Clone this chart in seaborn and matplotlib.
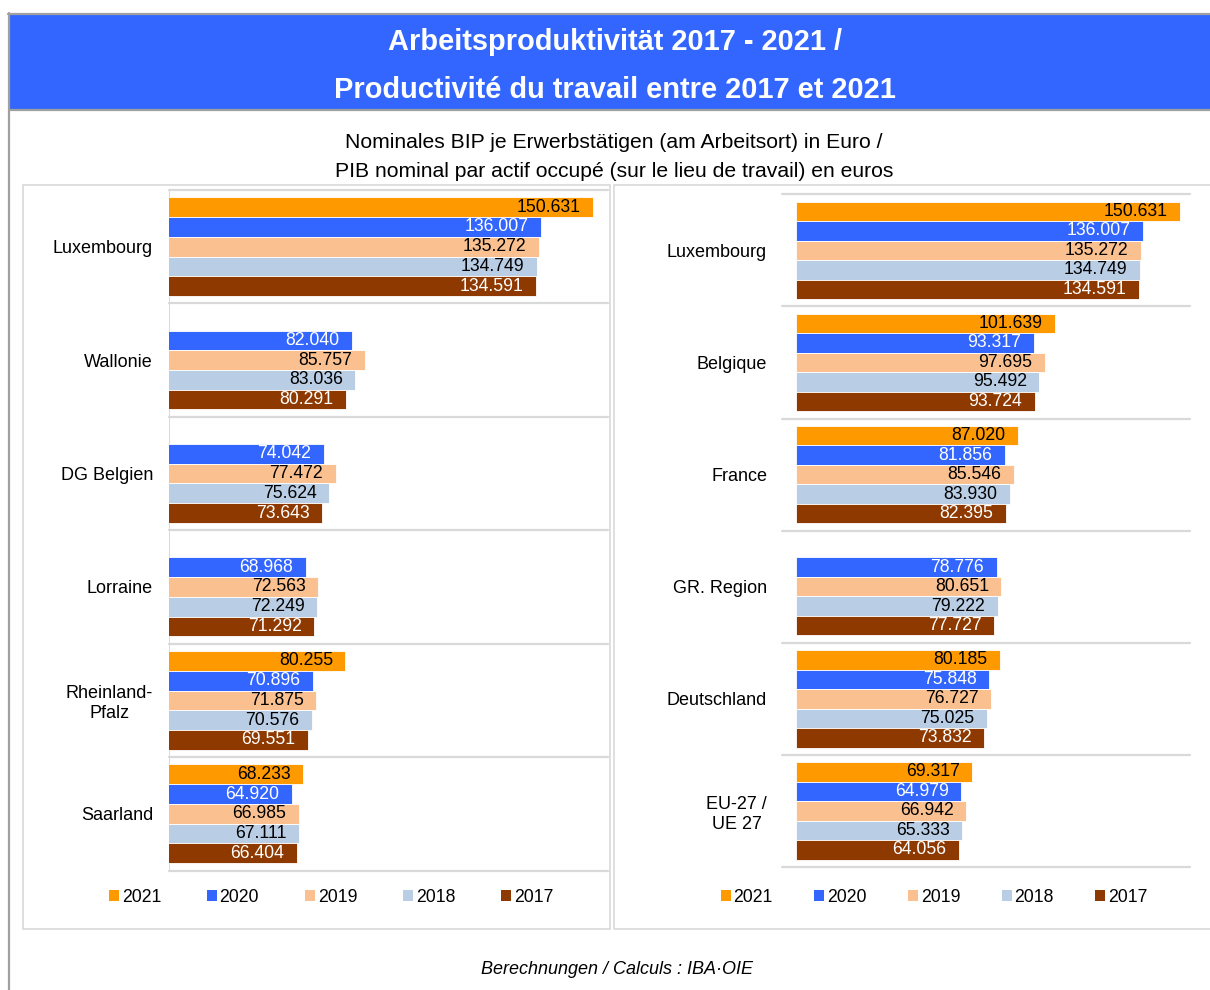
import matplotlib
matplotlib.use("Agg")
import matplotlib.pyplot as plt
import matplotlib.patches as mpatches
import numpy as np
import pandas as pd
import seaborn as sns

years = ["2021", "2020", "2019", "2018", "2017"]
year_colors = ["#FF9900", "#3366FF", "#FAC090", "#B9CDE5", "#8E3900"]
label_colors = ["black", "white", "black", "black", "white"]

left_regions = ["Luxembourg", "Wallonie", "DG Belgien", "Lorraine", "Rheinland-\nPfalz", "Saarland"]
left_values = {
    "2021": [150631, np.nan, np.nan, np.nan, 80255, 68233],
    "2020": [136007, 82040, 74042, 68968, 70896, 64920],
    "2019": [135272, 85757, 77472, 72563, 71875, 66985],
    "2018": [134749, 83036, 75624, 72249, 70576, 67111],
    "2017": [134591, 80291, 73643, 71292, 69551, 66404],
}

right_regions = ["Luxembourg", "Belgique", "France", "GR. Region", "Deutschland", "EU-27 /\nUE 27"]
right_values = {
    "2021": [150631, 101639, 87020, np.nan, 80185, 69317],
    "2020": [136007, 93317, 81856, 78776, 75848, 64979],
    "2019": [135272, 97695, 85546, 80651, 76727, 66942],
    "2018": [134749, 95492, 83930, 79222, 75025, 65333],
    "2017": [134591, 93724, 82395, 77727, 73832, 64056],
}

title = "Arbeitsproduktivität 2017 - 2021 /\nProductivité du travail entre 2017 et 2021"
subtitle = ("Nominales BIP je Erwerbstätigen (am Arbeitsort) in Euro /\n"
            "PIB nominal par actif occupé (sur le lieu de travail) en euros")
source = "Berechnungen / Calculs : IBA·OIE"

sns.set_theme(style="white")
plt.rcParams["font.family"] = ["Liberation Sans", "DejaVu Sans"]
plt.rcParams["text.color"] = "black"

W, H = 1210, 990
fig = plt.figure(figsize=(W / 100, H / 100), dpi=100)


def fx(px):
    return px / W


def fy(px):
    return 1 - px / H


# frame, header and panel boxes
frame_col = "#A0A0A0"
fig.patches.append(mpatches.Rectangle((fx(10), fy(109)), fx(1200), 95 / H, transform=fig.transFigure,
                                      facecolor="#3366FF", edgecolor="none", zorder=0))
fig.add_artist(plt.Line2D([fx(8), 1], [fy(13.5), fy(13.5)], color=frame_col, lw=1.6))
fig.add_artist(plt.Line2D([fx(9), 1], [fy(109.5), fy(109.5)], color=frame_col, lw=1.6))
fig.add_artist(plt.Line2D([fx(9), fx(9)], [fy(13), 0], color=frame_col, lw=1.6))
for x0, x1 in [(23, 610), (614, 1212)]:
    fig.patches.append(mpatches.Rectangle((fx(x0), fy(929)), fx(x1 - x0), 744 / H, transform=fig.transFigure,
                                          facecolor="none", edgecolor="#D9D9D9", lw=1.2, zorder=0))

fig.text(fx(615), fy(66), title, ha="center", va="center", color="white", fontsize=20.9,
         fontweight="bold", linespacing=1.9)
fig.text(fx(614), fy(157), subtitle, ha="center", va="center", color="black", fontsize=15.2,
         linespacing=1.65)
fig.text(fx(617), fy(969), source, ha="center", va="center", color="black", fontsize=13, style="italic")


def fmt(v):
    return f"{int(round(v)):,}".replace(",", ".")


def panel(rect, regions, values, xlim, tick_pad, vline, leg_center, colspace):
    ax = fig.add_axes(rect)
    df = pd.DataFrame(values, index=regions).reset_index(names="region")
    df = df.melt(id_vars="region", var_name="year", value_name="value")
    sns.barplot(data=df, y="region", x="value", hue="year", hue_order=years, order=regions,
                palette=year_colors, orient="h", width=0.87, dodge=True, ax=ax,
                edgecolor="white", linewidth=0.6, saturation=1, legend=False)
    for cont, tc in zip(ax.containers, label_colors):
        labs = ax.bar_label(cont, labels=[fmt(v) for v in cont.datavalues], padding=-9,
                            color=tc, fontsize=12.7)
        for t in labs:
            t.set_ha("right")
    for i in range(len(regions) + 1):
        ax.axhline(i - 0.5, xmin=-0.034 if not vline else 0, xmax=1, color="#D9D9D9", lw=1.6,
                   clip_on=False, zorder=0)
    if vline:
        ax.axvline(xlim[0], color="#D9D9D9", lw=1.4, zorder=0)
    ax.set_xlim(*xlim)
    ax.set_ylim(len(regions) - 0.5, -0.5)
    ax.set_xlabel("")
    ax.set_ylabel("")
    ax.set_xticks([])
    ax.tick_params(axis="y", length=0, pad=tick_pad, labelsize=13, labelcolor="black")
    for t in ax.get_yticklabels():
        t.set_multialignment("center")
    sns.despine(ax=ax, left=True, bottom=True)
    handles = [mpatches.Patch(facecolor=c, edgecolor="none", label=y) for y, c in zip(years, year_colors)]
    fig.legend(handles=handles, ncol=5, loc="center", bbox_to_anchor=(fx(leg_center), fy(897)),
               frameon=False, fontsize=12.7, handlelength=0.57, handleheight=0.57,
               handletextpad=0.15, columnspacing=colspace, labelcolor="black")
    return ax


panel([fx(169), fy(870.5), fx(439), 680.5 / H], left_regions, left_values, (30000, 155000),
      11.5, True, 331, 2.6)
panel([fx(795.5), fy(867), fx(394.5), 672.7 / H], right_regions, right_values, (0, 154500),
      20.5, False, 934, 2.35)

fig.savefig("out.png", dpi=100)
